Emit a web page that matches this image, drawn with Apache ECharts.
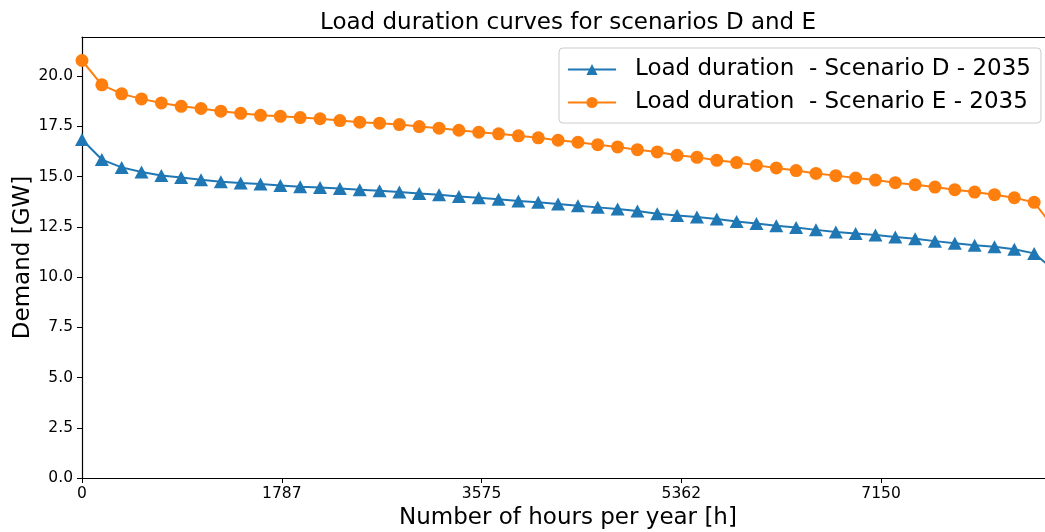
<!DOCTYPE html>
<html>
<head>
<meta charset="utf-8">
<script src="https://cdn.jsdelivr.net/npm/echarts@6/dist/echarts.min.js"></script>
<style>
  html, body { margin: 0; padding: 0; background: #ffffff; }
  #chart { width: 1045px; height: 532px; }
</style>
</head>
<body>
<div id="chart"></div>
<script>
// Hour of the year at each sampled point of the sorted load curves
const hours = [
  0, 177.5, 355, 532.5, 710, 887.5, 1065, 1242.5, 1420, 1597.5,
  1775, 1952.5, 2130, 2307.5, 2485, 2662.5, 2840, 3017.5, 3195, 3372.5,
  3550, 3727.5, 3905, 4082.5, 4260, 4437.5, 4615, 4792.5, 4970, 5147.5,
  5325, 5502.5, 5680, 5857.5, 6035, 6212.5, 6390, 6567.5, 6745, 6922.5,
  7100, 7277.5, 7455, 7632.5, 7810, 7987.5, 8165, 8342.5, 8520, 8760
];

// Demand [GW], scenario D (2035)
const demandD = [
  16.85, 15.85, 15.46, 15.23, 15.06, 14.96, 14.85, 14.75, 14.68, 14.63,
  14.56, 14.50, 14.46, 14.41, 14.35, 14.30, 14.23, 14.16, 14.10, 14.01,
  13.95, 13.87, 13.79, 13.72, 13.64, 13.55, 13.47, 13.39, 13.29, 13.15,
  13.07, 12.99, 12.89, 12.77, 12.67, 12.55, 12.47, 12.35, 12.25, 12.17,
  12.09, 11.99, 11.91, 11.79, 11.69, 11.59, 11.51, 11.39, 11.18, 10.05
];

// Demand [GW], scenario E (2035)
const demandE = [
  20.78, 19.57, 19.12, 18.87, 18.67, 18.50, 18.39, 18.26, 18.15, 18.05,
  18.00, 17.94, 17.88, 17.79, 17.71, 17.66, 17.59, 17.49, 17.41, 17.31,
  17.21, 17.13, 17.03, 16.93, 16.81, 16.71, 16.59, 16.48, 16.34, 16.23,
  16.06, 15.96, 15.81, 15.70, 15.56, 15.43, 15.30, 15.16, 15.05, 14.93,
  14.83, 14.70, 14.60, 14.48, 14.35, 14.23, 14.10, 13.95, 13.72, 11.98
];

// Tick positions
const xTicks = [0, 1787.5, 3575, 5362.5, 7150];
const yTicks = [0, 2.5, 5, 7.5, 10, 12.5, 15, 17.5, 20];

const seriesNames = [
  'Load duration  - Scenario D - 2035',
  'Load duration  - Scenario E - 2035'
];

const FONT = 'DejaVu Sans';
const BIG = 23;
const SMALL = 15.5;
const BLUE = '#1f77b4';
const ORANGE = '#ff7f0e';

// The last sample is the curve's end point and carries no marker
function toPoints(values) {
  return values.map((v, i) => {
    const item = { value: [hours[i], v] };
    if (i === values.length - 1) item.symbol = 'none';
    return item;
  });
}

const chart = echarts.init(document.getElementById('chart'), null, { renderer: 'canvas' });

chart.setOption({
  animation: false,
  backgroundColor: '#ffffff',
  textStyle: { fontFamily: FONT },
  title: {
    text: 'Load duration curves for scenarios D and E',
    left: 563,
    top: 7,
    textAlign: 'center',
    textStyle: { fontFamily: FONT, fontSize: BIG, fontWeight: 'normal', color: '#000' }
  },
  legend: {
    orient: 'vertical',
    left: 559,
    top: 48,
    padding: [10, 10, 9, 8],
    itemWidth: 48,
    itemHeight: 14,
    itemGap: 10,
    backgroundColor: 'rgba(255,255,255,0.8)',
    borderColor: '#cccccc',
    borderWidth: 1,
    borderRadius: 4,
    textStyle: { fontFamily: FONT, fontSize: BIG, color: '#000', padding: [0, 0, 0, 14] },
    data: seriesNames
  },
  grid: {
    left: 82,
    right: 0,
    top: 37,
    bottom: 54,
    containLabel: false,
    outerBoundsMode: 'none'
  },
  xAxis: [
    {
      type: 'value',
      min: 0,
      max: 8617,
      name: 'Number of hours per year [h]',
      nameLocation: 'middle',
      nameGap: 29,
      nameMoveOverlap: false,
      nameTextStyle: { fontFamily: FONT, fontSize: BIG, color: '#000', padding: [0, 0, 0, 9] },
      axisLine: { show: true, onZero: false, lineStyle: { color: '#000', width: 1.2 } },
      axisTick: { show: true, length: 5, customValues: xTicks, lineStyle: { color: '#000' } },
      axisLabel: {
        customValues: xTicks,
        margin: 8,
        fontFamily: FONT,
        fontSize: SMALL,
        color: '#000',
        formatter: v => String(Math.floor(v))
      },
      splitLine: { show: false }
    },
    {
      type: 'value',
      position: 'top',
      min: 0,
      max: 8617,
      axisLine: { show: true, onZero: false, lineStyle: { color: '#000', width: 1.2 } },
      axisTick: { show: false },
      axisLabel: { show: false },
      splitLine: { show: false }
    }
  ],
  yAxis: {
    type: 'value',
    min: 0,
    max: 21.95,
    name: 'Demand [GW]',
    nameLocation: 'middle',
    nameGap: 47,
    nameMoveOverlap: false,
    nameTextStyle: { fontFamily: FONT, fontSize: BIG, color: '#000' },
    axisLine: { show: true, onZero: false, lineStyle: { color: '#000', width: 1.2 } },
    axisTick: { show: true, length: 5, customValues: yTicks, lineStyle: { color: '#000' } },
    axisLabel: {
      customValues: yTicks,
      margin: 9,
      fontFamily: FONT,
      fontSize: SMALL,
      color: '#000',
      formatter: v => v.toFixed(1)
    },
    splitLine: { show: false }
  },
  series: [
    {
      name: seriesNames[0],
      type: 'line',
      xAxisIndex: 0,
      data: toPoints(demandD),
      color: BLUE,
      symbol: 'triangle',
      symbolSize: [14, 13],
      showAllSymbol: true,
      lineStyle: { width: 2, color: BLUE },
      itemStyle: { color: BLUE },
      emphasis: { disabled: true },
      clip: true,
      z: 2
    },
    {
      name: seriesNames[1],
      type: 'line',
      xAxisIndex: 0,
      data: toPoints(demandE),
      color: ORANGE,
      symbol: 'circle',
      symbolSize: 13,
      showAllSymbol: true,
      lineStyle: { width: 2, color: ORANGE },
      itemStyle: { color: ORANGE },
      emphasis: { disabled: true },
      clip: true,
      z: 3
    }
  ]
});
</script>
</body>
</html>
